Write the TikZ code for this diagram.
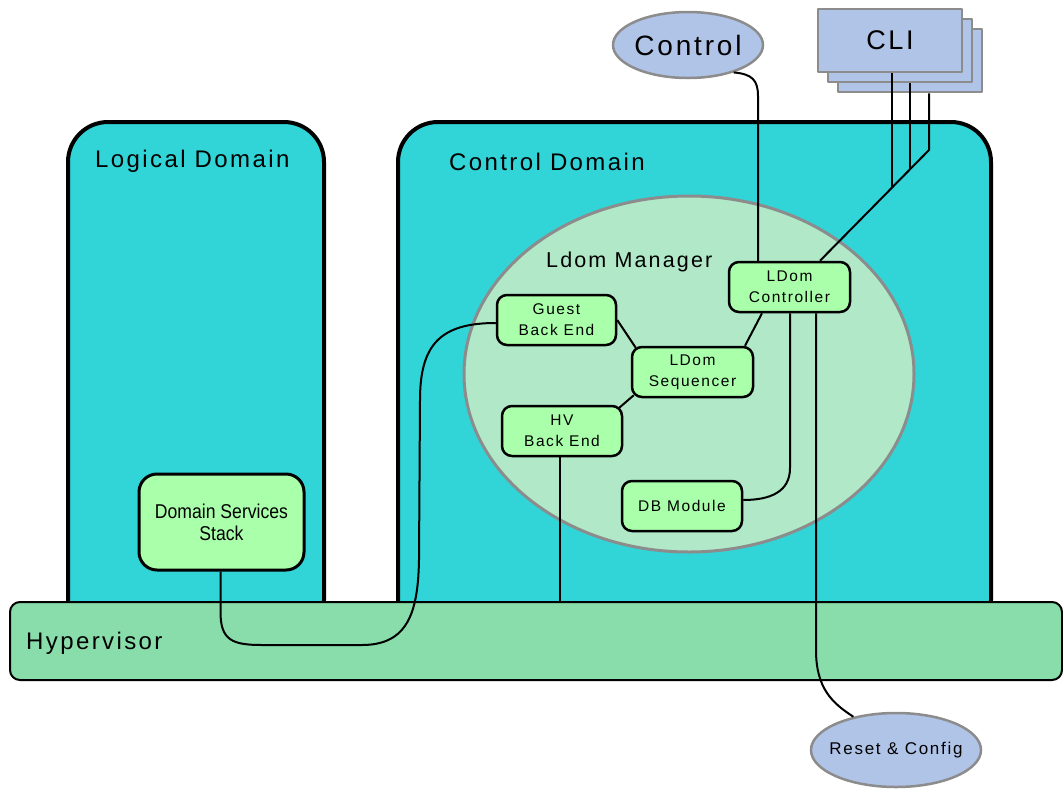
\documentclass[tikz,border=0pt]{standalone}
\usepackage{fontspec}
\setmainfont{Liberation Sans}
\newfontfamily\spaced{Liberation Sans}[LetterSpace=10]
\newfontfamily\narrowfont{Liberation Sans}[FakeStretch=0.88]
\usetikzlibrary{shapes.geometric}
\definecolor{domaincyan}{RGB}{49,213,216}
\definecolor{hypgreen}{RGB}{136,221,170}
\definecolor{mgrgreen}{RGB}{176,232,200}
\definecolor{compgreen}{RGB}{170,255,170}
\definecolor{extblue}{RGB}{176,196,232}
\definecolor{edgegray}{RGB}{140,140,140}
\pgfdeclarelayer{front}
\pgfsetlayers{main,front}
\tikzset{
  domainbox/.style={rectangle, draw=black, line width=4pt, fill=domaincyan,
    rounded corners=40pt, inner sep=0pt},
  hypbox/.style={rectangle, draw=black, line width=2pt, fill=hypgreen,
    rounded corners=10pt, inner sep=0pt},
  mgr/.style={ellipse, draw=edgegray, line width=3pt, fill=mgrgreen, inner sep=0pt},
  ext/.style={ellipse, draw=edgegray, line width=2.5pt, fill=extblue, inner sep=0pt},
  clibox/.style={rectangle, draw=edgegray, line width=2.5pt, fill=extblue,
    minimum width=144pt, minimum height=63pt, inner sep=0pt},
  comp/.style={rectangle, rounded corners=10pt, draw=black, line width=2.5pt,
    fill=compgreen, align=center, inner sep=0pt,
    font=\spaced\fontsize{15.5}{21}\selectfont},
  title/.style={anchor=base west, inner sep=0pt,
    font=\spaced\fontsize{24}{28}\selectfont},
  wire/.style={draw=black, line width=2pt},
}
\begin{document}
\begin{tikzpicture}[x=1pt, y=-1pt, line join=round]
\useasboundingbox (0,0) rectangle (1063,788);

% domains and hypervisor layer
\node[domainbox, minimum width=256pt, minimum height=518pt] (ld) at (196,381) {};
\node[domainbox, minimum width=593pt, minimum height=518pt] (cd) at (694.5,381) {};
\node[hypbox, minimum width=1052pt, minimum height=78pt] (hyp) at (536,641) {};

\node[title] (ldtitle) at (95,167) {Logical Domain};
\node[title] (cdtitle) at (449,170) {Control Domain};
\node[title] (hyptitle) at (26,649) {Hypervisor};

% LDom manager
\node[mgr, minimum width=450pt, minimum height=356pt] (mgr) at (689,374) {};
\node[anchor=base west, inner sep=0pt, font=\spaced\fontsize{21.5}{26}\selectfont]
  (mgrtitle) at (546,267) {Ldom Manager};

% external entities
\node[ext, minimum width=150pt, minimum height=66pt] (ctl) at (688,45) {};
\node[font=\spaced\fontsize{28}{32}\selectfont, inner sep=0pt] (ctltext) at (ctl) {Control};
\node[clibox] (cli3) at (910,60.5) {};
\node[clibox] (cli2) at (900,50.5) {};
\node[clibox, font=\spaced\fontsize{27}{32}\selectfont] (cli1) at (890,40.5) {CLI};
\node[ext, minimum width=170pt, minimum height=74pt] (reset) at (896,750) {};
\node[font=\spaced\fontsize{17}{20}\selectfont, inner sep=0pt] (resettext) at (reset) {Reset \& Config};

% components, kept above their wires
\begin{pgfonlayer}{front}
\node[comp, minimum width=121pt, minimum height=50pt] (ctrl) at (789.5,287) {LDom\\Controller};
\node[comp, minimum width=119pt, minimum height=50pt] (gbe) at (556.5,320) {Guest\\Back End};
\node[comp, minimum width=121pt, minimum height=50pt] (seq) at (692.5,372) {LDom\\Sequencer};
\node[comp, minimum width=120pt, minimum height=50pt] (hvbe) at (562,431) {HV\\Back End};
\node[comp, minimum width=120pt, minimum height=50pt] (db) at (682,506) {DB Module};
\node[comp, minimum width=165pt, minimum height=96pt, rounded corners=18pt, line width=3pt,
  font=\narrowfont\fontsize{20}{22}\selectfont] (dss) at (221.5,522) {Domain Services\\Stack};
\end{pgfonlayer}

% connectors
\coordinate (cliA) at (892,187);
\coordinate (cliB) at (910,169);
\path[wire] ([xshift=2pt]cli1.south) -- (cliA);
\path[wire] ([xshift=10pt]cli2.south) -- (cliB);
\path[wire] ([xshift=19pt]cli3.south) -- (929,150) -- ([xshift=30.5pt]ctrl.north);

\path[wire] (ctl.-31) .. controls (752,74) and (758,80) .. (758,96)
  -- ([xshift=-31.5pt]ctrl.north);

\path[wire] (gbe.east) -- ([shift={(5,2)}]seq.north west);
\path[wire] ([shift={(3,-3)}]seq.south west) -- ([shift={(-4,3)}]hvbe.north east);
\path[wire] ([xshift=52.5pt]seq.north) -- ([xshift=-27.5pt]ctrl.south);
\path[wire] ([xshift=0.5pt]ctrl.south) -- (790,468)
  .. controls (790,492) and (770,500) .. ([yshift=6pt]db.east);
\path[wire] ([xshift=26.5pt]ctrl.south) -- (816,650)
  .. controls (816,688) and (832,703) .. (reset.142);

\path[wire] ([xshift=-2pt]hvbe.south) -- ([xshift=-2pt]hvbe.south |- hyp.north);

\path[wire] ([xshift=-1pt]dss.south) -- (220.5,612)
  .. controls (220.5,640) and (232,645) .. (262,645) -- (362,645)
  .. controls (408,645) and (418,612) .. (419,560) -- (420,400)
  .. controls (420,345) and (440,323) .. ([yshift=-3pt]gbe.west);
\end{tikzpicture}
\end{document}
